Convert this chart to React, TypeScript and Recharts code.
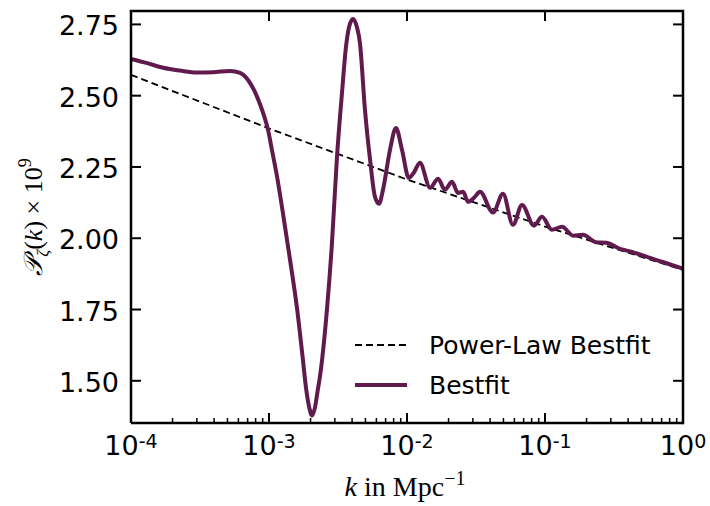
import { LineChart, Line, XAxis, YAxis, Legend, ReferenceLine } from "recharts";

// k in Mpc^-1 and P_zeta(k) x 1e9
const bestK = [
  1.0e-4, 1.31e-4, 1.71e-4, 2.26e-4, 3.01e-4, 3.93e-4, 5.22e-4, 6.17e-4, 7.05e-4, 7.78e-4,
  8.61e-4, 9.2e-4, 9.84e-4, 1.05e-3, 1.14e-3, 1.26e-3, 1.42e-3, 1.6e-3, 1.76e-3, 1.86e-3,
  1.96e-3, 2.05e-3, 2.15e-3, 2.26e-3, 2.34e-3, 2.63e-3, 2.86e-3, 3.11e-3, 3.38e-3, 3.61e-3,
  3.8e-3, 4.06e-3, 4.34e-3, 4.56e-3, 4.96e-3, 5.4e-3, 5.86e-3, 6.27e-3, 6.7e-3, 7.53e-3,
  8.32e-3, 9.2e-3, 1.03e-2, 1.12e-2, 1.24e-2, 1.47e-2, 1.68e-2, 1.88e-2, 2.12e-2, 2.34e-2,
  2.55e-2, 2.77e-2, 3.06e-2, 3.38e-2, 4.2e-2, 4.96e-2, 5.86e-2, 6.81e-2, 8.32e-2, 9.51e-2,
  0.112, 0.133, 0.16, 0.188, 0.234, 0.277, 0.349, 0.427, 0.577, 0.741, 1.0,
];
const bestP = [
  2.629, 2.614, 2.598, 2.588, 2.581, 2.582, 2.587, 2.58, 2.555, 2.52,
  2.47, 2.43, 2.38, 2.31, 2.22, 2.09, 1.925, 1.75, 1.575, 1.47,
  1.405, 1.378, 1.405, 1.47, 1.515, 1.75, 1.984, 2.286, 2.51, 2.67,
  2.74, 2.769, 2.74, 2.685, 2.45, 2.275, 2.145, 2.121, 2.17, 2.31,
  2.387, 2.31, 2.212, 2.23, 2.265, 2.177, 2.209, 2.17, 2.198, 2.159,
  2.163, 2.128, 2.142, 2.163, 2.09, 2.156, 2.047, 2.117, 2.044, 2.075,
  2.03, 2.04, 2.009, 2.012, 1.986, 1.984, 1.963, 1.952, 1.931, 1.914, 1.893,
];
const powerK = [1e-4, 1e-3, 1e-2, 1e-1, 1];
const powerP = [2.573, 2.385, 2.206, 2.041, 1.889];

const yTicks = [1.5, 1.75, 2.0, 2.25, 2.5, 2.75];
const majorK = [1e-4, 1e-3, 1e-2, 1e-1, 1];
const majorExp = ["-4", "-3", "-2", "-1", "0"];
const minorK = majorK.slice(0, 4).flatMap((d) => [2, 3, 4, 5, 6, 7, 8, 9].map((m) => m * d));

const bestData = bestK.map((k, i) => ({ k, p: bestP[i] }));
const powerData = powerK.map((k, i) => ({ k, p: powerP[i] }));

const Y_MIN = 1.352;
const Y_MAX = 2.797;
// inward tick lengths of the mirrored frame ticks, in data units (~10px)
const TOP_TICK_DY = 0.035;
const RIGHT_TICK_K = 0.847;

const W = 710;
const H = 506;
const MARGIN = { top: 11, right: 27, bottom: 0, left: 0 };
const PLOT_TOP = MARGIN.top;
const PLOT_RIGHT = W - MARGIN.right;

const PURPLE = "#611a4e";
const SANS = "DejaVu Sans, sans-serif";
const SERIF = "Liberation Serif, DejaVu Serif, serif";

// bottom ticks; the first one also closes the frame on the top and right
function BottomTick({ x, y, payload }: any) {
  const i = majorK.indexOf(payload.value);
  const major = i >= 0;
  return (
    <g>
      {i === 0 && (
        <path
          d={`M${x},${PLOT_TOP} H${PLOT_RIGHT} V${y}`}
          fill="none"
          stroke="#000"
          strokeWidth={2.5}
          strokeLinecap="square"
        />
      )}
      <line x1={x} x2={x} y1={y} y2={y - (major ? 10 : 5)} stroke="#000" strokeWidth={major ? 2 : 1.5} />
      {major && (
        <text x={x} y={y + 32} textAnchor="middle" fontSize={27} fontFamily={SANS} fill="#000">
          10<tspan dy={-7} fontSize={19}>{majorExp[i]}</tspan>
        </text>
      )}
    </g>
  );
}

function LeftTick({ x, y, payload }: any) {
  return (
    <g>
      <line x1={x} x2={x + 10} y1={y} y2={y} stroke="#000" strokeWidth={2} />
      <text x={x - 12} y={y + 11} textAnchor="end" fontSize={27} fontFamily={SANS} fill="#000">
        {payload.value.toFixed(2)}
      </text>
    </g>
  );
}

function XLabel({ viewBox }: any) {
  const cx = viewBox.x + viewBox.width / 2 - 2;
  return (
    <text x={cx} y={496} textAnchor="middle" fontSize={28} fontFamily={SERIF} fill="#000">
      <tspan fontStyle="italic">k</tspan> in Mpc<tspan dy={-11} fontSize={20}>−1</tspan>
    </text>
  );
}

function YLabel({ viewBox }: any) {
  const cy = viewBox.y + viewBox.height / 2;
  return (
    <text
      x={42}
      y={cy}
      transform={`rotate(-90 42 ${cy})`}
      textAnchor="middle"
      fontSize={26}
      fontFamily={SERIF}
      fill="#000"
    >
      <tspan fontStyle="italic">𝒫</tspan>
      <tspan dy={6} fontSize={17} fontStyle="italic">ζ</tspan>
      <tspan dy={-6}>(</tspan>
      <tspan fontStyle="italic">k</tspan>
      <tspan>) × 10</tspan>
      <tspan dy={-11} fontSize={18}>9</tspan>
    </text>
  );
}

function LegendBox() {
  const row = { display: "flex", alignItems: "center", height: 40 } as const;
  return (
    <div style={{ fontFamily: SANS, fontSize: 25, color: "#000", lineHeight: 1 }}>
      <div style={row}>
        <svg width={52} height={10} style={{ marginRight: 22 }}>
          <line x1={0} x2={52} y1={5} y2={5} stroke="#000" strokeWidth={1.8} strokeDasharray="7 4" />
        </svg>
        Power-Law Bestfit
      </div>
      <div style={row}>
        <svg width={52} height={10} style={{ marginRight: 22 }}>
          <line x1={0} x2={52} y1={5} y2={5} stroke={PURPLE} strokeWidth={4} />
        </svg>
        Bestfit
      </div>
    </div>
  );
}

export default function App() {
  return (
    <div style={{ position: "absolute", left: 0, top: 0, background: "#fff" }}>
      <LineChart width={W} height={H} margin={MARGIN}>
        <XAxis
          xAxisId="b"
          dataKey="k"
          type="number"
          scale="log"
          domain={[1e-4, 1]}
          allowDataOverflow
          ticks={[...majorK, ...minorK]}
          interval={0}
          height={83}
          tickSize={0}
          tickMargin={0}
          tick={BottomTick}
          axisLine={{ stroke: "#000", strokeWidth: 2.5 }}
          label={{ content: XLabel }}
        />
        <YAxis
          yAxisId="l"
          type="number"
          domain={[Y_MIN, Y_MAX]}
          allowDataOverflow
          ticks={yTicks}
          interval={0}
          width={131}
          tickSize={0}
          tickMargin={0}
          tick={LeftTick}
          axisLine={{ stroke: "#000", strokeWidth: 2.5 }}
          label={{ content: YLabel }}
        />
        {/* mirrored ticks on the top and right edges of the frame */}
        {majorK.slice(1, 4).map((k) => (
          <ReferenceLine
            key={`t${k}`}
            xAxisId="b"
            yAxisId="l"
            segment={[{ x: k, y: Y_MAX }, { x: k, y: Y_MAX - TOP_TICK_DY }]}
            stroke="#000"
            strokeWidth={2}
            ifOverflow="visible"
          />
        ))}
        {yTicks.map((v) => (
          <ReferenceLine
            key={`r${v}`}
            xAxisId="b"
            yAxisId="l"
            segment={[{ x: 1, y: v }, { x: RIGHT_TICK_K, y: v }]}
            stroke="#000"
            strokeWidth={2}
            ifOverflow="visible"
          />
        ))}
        <Line
          xAxisId="b"
          yAxisId="l"
          data={powerData}
          dataKey="p"
          name="Power-Law Bestfit"
          type="linear"
          stroke="#000"
          strokeWidth={1.8}
          strokeDasharray="7 4"
          dot={false}
          isAnimationActive={false}
        />
        <Line
          xAxisId="b"
          yAxisId="l"
          data={bestData}
          dataKey="p"
          name="Bestfit"
          type="monotone"
          stroke={PURPLE}
          strokeWidth={4}
          dot={false}
          isAnimationActive={false}
        />
        <Legend
          layout="vertical"
          align="center"
          verticalAlign="middle"
          content={LegendBox}
          wrapperStyle={{ left: 355, top: 325, width: 330, height: 80 }}
        />
      </LineChart>
    </div>
  );
}
